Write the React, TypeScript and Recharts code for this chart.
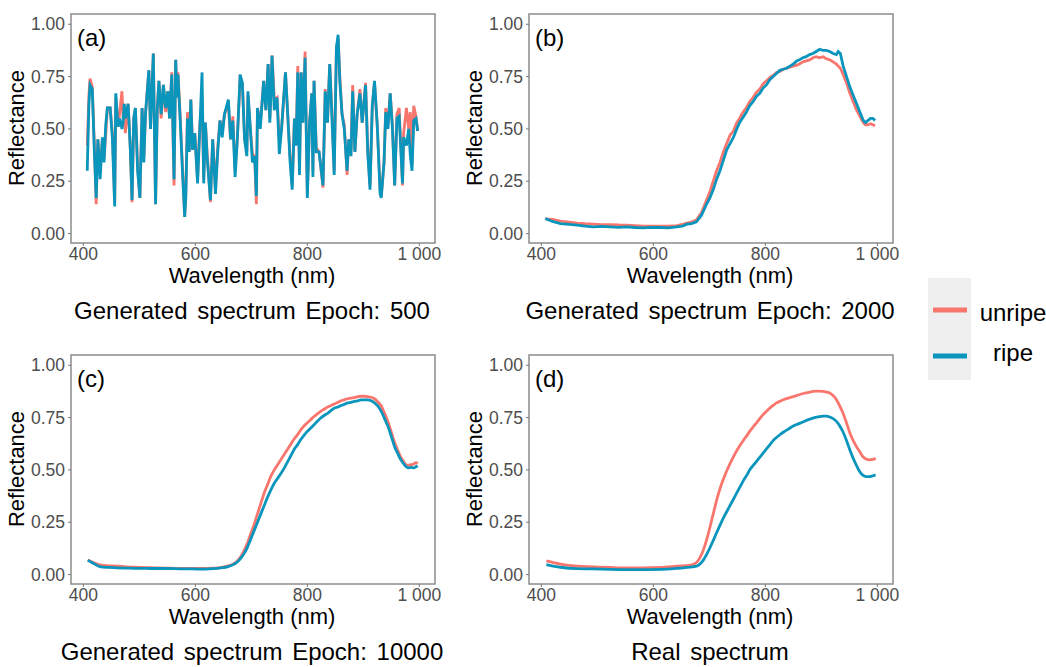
import { LineChart, Line, XAxis, YAxis, ReferenceArea } from 'recharts';

document.body.style.margin = '0';

// axis setup shared by all four panels
const xTicks = [400, 600, 800, 1000];
const xTickLabels = ['400', '600', '800', '1 000'];
const yTicks = [0, 0.25, 0.5, 0.75, 1];
const seriesNames = ['unripe', 'ripe'];
const seriesColors = ['#F8766D', '#0A95BD'];

// (a) Generated spectrum, epoch 500
const waveA = [
  407, 410, 412, 416, 420, 423, 426, 430, 434, 437, 440, 443, 448, 452, 456, 458, 462, 465, 469, 471,
  473, 475, 480, 484, 487, 490, 493, 497, 501, 505, 508, 511, 517, 520, 525, 529, 532, 535, 539, 543,
  547, 551, 554, 558, 562, 565, 567, 569, 573, 577, 581, 583, 586, 589, 592, 595, 599, 604, 608, 612,
  615, 618, 621, 627, 631, 636, 640, 644, 648, 652, 659, 663, 667, 671, 675, 680, 684, 688, 692, 694,
  698, 702, 706, 709, 711, 716, 722, 726, 730, 733, 735, 737, 741, 746, 750, 754, 761, 765, 769, 773,
  777, 780, 783, 786, 789, 792, 796, 800, 804, 808, 810, 812, 816, 821, 828, 832, 836, 840, 844, 848,
  852, 855, 858, 862, 866, 871, 874, 878, 881, 885, 889, 894, 898, 904, 908, 912, 916, 920, 925, 930,
  932, 937, 940, 944, 948, 952, 956, 960, 964, 970, 972, 977, 981, 984, 987, 990, 994, 997,
];
const unripeA = [
  0.42, 0.66, 0.74, 0.7, 0.4, 0.14, 0.45, 0.3, 0.44, 0.36, 0.47, 0.6, 0.6, 0.48, 0.15, 0.65, 0.51, 0.58, 0.68, 0.55,
  0.62, 0.48, 0.62, 0.4, 0.15, 0.55, 0.6, 0.32, 0.17, 0.6, 0.36, 0.57, 0.78, 0.5, 0.86, 0.14, 0.59, 0.73, 0.55, 0.71,
  0.58, 0.68, 0.55, 0.77, 0.23, 0.83, 0.65, 0.77, 0.56, 0.32, 0.08, 0.2, 0.58, 0.39, 0.64, 0.42, 0.48, 0.26, 0.52, 0.64,
  0.26, 0.53, 0.39, 0.15, 0.45, 0.22, 0.41, 0.54, 0.48, 0.57, 0.62, 0.45, 0.56, 0.3, 0.45, 0.74, 0.72, 0.45, 0.39, 0.66,
  0.51, 0.38, 0.37, 0.14, 0.6, 0.52, 0.73, 0.59, 0.81, 0.55, 0.66, 0.85, 0.64, 0.65, 0.45, 0.5, 0.77, 0.57, 0.38, 0.23,
  0.55, 0.45, 0.8, 0.3, 0.77, 0.53, 0.87, 0.19, 0.53, 0.67, 0.3, 0.73, 0.41, 0.39, 0.22, 0.69, 0.53, 0.81, 0.58, 0.3,
  0.89, 0.93, 0.75, 0.57, 0.52, 0.28, 0.45, 0.4, 0.71, 0.39, 0.57, 0.69, 0.53, 0.72, 0.4, 0.23, 0.61, 0.72, 0.51, 0.21,
  0.18, 0.34, 0.6, 0.52, 0.67, 0.52, 0.23, 0.57, 0.6, 0.23, 0.48, 0.6, 0.5, 0.58, 0.33, 0.61, 0.56, 0.49,
];
const ripeA = [
  0.3, 0.62, 0.71, 0.69, 0.37, 0.17, 0.45, 0.26, 0.46, 0.34, 0.52, 0.6, 0.6, 0.45, 0.13, 0.67, 0.51, 0.55, 0.5, 0.53,
  0.62, 0.55, 0.62, 0.4, 0.16, 0.55, 0.6, 0.3, 0.17, 0.6, 0.34, 0.57, 0.78, 0.5, 0.86, 0.14, 0.59, 0.73, 0.57, 0.71,
  0.6, 0.68, 0.55, 0.76, 0.26, 0.83, 0.65, 0.76, 0.54, 0.3, 0.08, 0.17, 0.55, 0.39, 0.64, 0.4, 0.48, 0.24, 0.5, 0.77,
  0.24, 0.53, 0.37, 0.16, 0.45, 0.19, 0.39, 0.54, 0.46, 0.57, 0.64, 0.45, 0.54, 0.27, 0.45, 0.76, 0.72, 0.45, 0.37, 0.68,
  0.51, 0.34, 0.37, 0.18, 0.6, 0.5, 0.73, 0.59, 0.81, 0.53, 0.68, 0.85, 0.59, 0.65, 0.38, 0.5, 0.77, 0.57, 0.35, 0.21,
  0.55, 0.42, 0.77, 0.28, 0.77, 0.53, 0.84, 0.17, 0.53, 0.67, 0.27, 0.73, 0.39, 0.39, 0.23, 0.68, 0.53, 0.81, 0.55, 0.28,
  0.89, 0.95, 0.73, 0.57, 0.5, 0.3, 0.45, 0.37, 0.68, 0.39, 0.57, 0.67, 0.53, 0.71, 0.38, 0.21, 0.61, 0.73, 0.51, 0.19,
  0.17, 0.34, 0.58, 0.5, 0.67, 0.5, 0.23, 0.55, 0.56, 0.24, 0.46, 0.42, 0.5, 0.37, 0.3, 0.54, 0.55, 0.49,
];

// (b) Generated spectrum, epoch 2000
const waveB = [
  407, 420, 434, 450, 464, 478, 493, 508, 523, 538, 553, 567, 582, 597, 612, 627, 642, 652, 660, 668,
  677, 686, 695, 701, 707, 713, 719, 725, 731, 737, 743, 749, 754, 760, 766, 772, 778, 784, 790, 796,
  802, 808, 814, 820, 826, 832, 838, 844, 850, 856, 861, 867, 873, 879, 885, 891, 897, 903, 909, 915,
  921, 927, 930, 934, 939, 945, 951, 957, 963, 969, 975, 979, 983, 988, 992, 996,
];
const unripeB = [
  0.07, 0.068, 0.06, 0.055, 0.05, 0.047, 0.045, 0.043, 0.043, 0.041, 0.04, 0.038, 0.035, 0.036, 0.035, 0.036, 0.038, 0.044, 0.05, 0.055,
  0.065, 0.1, 0.16, 0.2, 0.25, 0.3, 0.34, 0.39, 0.43, 0.47, 0.49, 0.53, 0.55, 0.58, 0.6, 0.63, 0.65, 0.675, 0.69, 0.715,
  0.73, 0.745, 0.755, 0.77, 0.775, 0.785, 0.79, 0.795, 0.8, 0.805, 0.81, 0.82, 0.825, 0.83, 0.84, 0.845, 0.84, 0.845, 0.835, 0.83,
  0.82, 0.81, 0.8, 0.79, 0.76, 0.72, 0.67, 0.63, 0.59, 0.56, 0.53, 0.52, 0.52, 0.525, 0.52, 0.515,
];
const ripeB = [
  0.072, 0.058, 0.048, 0.044, 0.04, 0.036, 0.032, 0.034, 0.032, 0.03, 0.032, 0.029, 0.027, 0.03, 0.029, 0.027, 0.032, 0.036, 0.045, 0.048,
  0.056, 0.088, 0.14, 0.17, 0.21, 0.26, 0.3, 0.35, 0.4, 0.43, 0.46, 0.5, 0.53, 0.555, 0.58, 0.61, 0.63, 0.655, 0.67, 0.695,
  0.71, 0.735, 0.75, 0.765, 0.78, 0.785, 0.79, 0.8, 0.81, 0.825, 0.83, 0.84, 0.845, 0.855, 0.86, 0.87, 0.88, 0.875, 0.875, 0.87,
  0.86, 0.855, 0.87, 0.86, 0.8, 0.75, 0.7, 0.66, 0.62, 0.58, 0.54, 0.53, 0.54, 0.55, 0.55, 0.54,
];

// (c) Generated spectrum, epoch 10000
const waveC = [
  408, 420, 431, 446, 461, 476, 491, 505, 520, 535, 550, 565, 580, 595, 610, 625, 640, 649, 657, 663,
  669, 675, 681, 687, 693, 699, 705, 711, 717, 723, 729, 735, 741, 747, 753, 759, 765, 771, 777, 783,
  788, 794, 800, 806, 812, 818, 824, 830, 836, 842, 848, 854, 860, 866, 872, 878, 884, 890, 896, 902,
  908, 914, 920, 926, 932, 938, 944, 950, 956, 962, 967, 972, 976, 980, 985, 990, 994, 997,
];
const unripeC = [
  0.069, 0.055, 0.045, 0.042, 0.04, 0.037, 0.035, 0.034, 0.033, 0.032, 0.031, 0.03, 0.03, 0.03, 0.029, 0.03, 0.032, 0.036, 0.04, 0.045,
  0.052, 0.065, 0.085, 0.115, 0.15, 0.195, 0.24, 0.29, 0.34, 0.39, 0.43, 0.47, 0.5, 0.525, 0.55, 0.575, 0.6, 0.625, 0.65, 0.67,
  0.69, 0.71, 0.725, 0.74, 0.755, 0.768, 0.78, 0.79, 0.8, 0.807, 0.815, 0.822, 0.83, 0.835, 0.84, 0.843, 0.845, 0.85, 0.852, 0.852,
  0.85, 0.847, 0.84, 0.825, 0.805, 0.77, 0.73, 0.68, 0.63, 0.59, 0.56, 0.54, 0.525, 0.522, 0.525, 0.528, 0.535, 0.53,
];
const ripeC = [
  0.069, 0.05, 0.037, 0.034, 0.032, 0.031, 0.03, 0.03, 0.029, 0.029, 0.029, 0.028, 0.027, 0.027, 0.026, 0.027, 0.03, 0.033, 0.037, 0.042,
  0.05, 0.06, 0.077, 0.1, 0.13, 0.17, 0.21, 0.25, 0.29, 0.33, 0.37, 0.405, 0.436, 0.46, 0.484, 0.51, 0.54, 0.57, 0.6, 0.622,
  0.644, 0.665, 0.684, 0.7, 0.716, 0.733, 0.748, 0.76, 0.77, 0.783, 0.795, 0.8, 0.807, 0.813, 0.82, 0.823, 0.827, 0.83, 0.835, 0.835,
  0.835, 0.83, 0.82, 0.805, 0.78, 0.745, 0.708, 0.66, 0.61, 0.575, 0.548, 0.53, 0.516, 0.51, 0.512, 0.51, 0.515, 0.52,
];

// (d) Real spectrum
const waveD = [
  409, 434, 464, 493, 523, 553, 582, 612, 642, 666, 677, 683, 689, 695, 701, 707, 713, 719, 725, 731,
  737, 743, 749, 755, 761, 767, 772, 778, 784, 790, 796, 802, 808, 814, 820, 826, 832, 841, 850, 859,
  868, 877, 885, 894, 903, 909, 915, 921, 927, 933, 939, 945, 951, 957, 963, 969, 974, 980, 986, 992, 997,
];
const unripeD = [
  0.065, 0.05, 0.04, 0.037, 0.034, 0.032, 0.032, 0.034, 0.04, 0.045, 0.058, 0.08, 0.115, 0.165, 0.225, 0.29, 0.355, 0.41, 0.455, 0.495,
  0.53, 0.562, 0.592, 0.618, 0.642, 0.664, 0.684, 0.705, 0.724, 0.745, 0.764, 0.78, 0.796, 0.808, 0.82, 0.828, 0.835, 0.843, 0.85, 0.858,
  0.865, 0.87, 0.875, 0.876, 0.875, 0.872, 0.867, 0.855, 0.835, 0.805, 0.77, 0.725, 0.676, 0.64, 0.61, 0.585, 0.564, 0.552, 0.548, 0.55, 0.556,
];
const ripeD = [
  0.048, 0.035, 0.028, 0.027, 0.025, 0.024, 0.024, 0.025, 0.03, 0.036, 0.04, 0.05, 0.068, 0.095, 0.128, 0.163, 0.2, 0.235, 0.27, 0.3,
  0.33, 0.36, 0.39, 0.42, 0.45, 0.475, 0.5, 0.52, 0.54, 0.56, 0.58, 0.6, 0.62, 0.64, 0.655, 0.668, 0.68, 0.695, 0.71, 0.72,
  0.73, 0.74, 0.747, 0.753, 0.757, 0.757, 0.753, 0.745, 0.732, 0.71, 0.68, 0.64, 0.595, 0.555, 0.52, 0.49, 0.475, 0.468, 0.468, 0.472, 0.475,
];

const toRows = (wave: number[], unripe: number[], ripe: number[]) =>
  wave.map((nm, i) => ({ nm, unripe: unripe[i], ripe: ripe[i] }));

const X_DOMAIN: [number, number] = [378, 1028];
const Y_DOMAIN: [number, number] = [-0.045, 1.049];

type PanelProps = {
  left: number;
  top: number;
  tag: string;
  subtitle: string;
  rows: Array<{ nm: number; unripe: number; ripe: number }>;
  curve: 'linear' | 'monotone';
};

function SpectrumPanel({ left, top, tag, subtitle, rows, curve }: PanelProps) {
  const centered = (y: number, size: number): React.CSSProperties => ({
    position: 'absolute',
    left: 251,
    top: y - size * 0.6,
    transform: 'translateX(-50%)',
    fontSize: size,
    lineHeight: `${size * 1.2}px`,
    whiteSpace: 'nowrap',
    color: '#000',
  });

  return (
    <div style={{ position: 'absolute', left, top, width: 440, height: 330 }}>
      <LineChart
        width={440}
        height={330}
        data={rows}
        margin={{ top: 14, right: 6, bottom: 0, left: 0 }}
      >
        <XAxis
          type="number"
          dataKey="nm"
          domain={X_DOMAIN}
          ticks={xTicks}
          tickFormatter={(v: number) => xTickLabels[xTicks.indexOf(v)]}
          allowDataOverflow
          height={87}
          axisLine={false}
          tickSize={3}
          tickMargin={2}
          tickLine={{ stroke: '#777' }}
          tick={{ fill: '#4d4d4d', fontSize: 17.5 }}
        />
        <YAxis
          type="number"
          domain={Y_DOMAIN}
          ticks={yTicks}
          tickFormatter={(v: number) => v.toFixed(2)}
          allowDataOverflow
          width={70}
          axisLine={false}
          tickSize={3}
          tickMargin={3}
          tickLine={{ stroke: '#777' }}
          tick={{ fill: '#4d4d4d', fontSize: 17.5 }}
        />
        <ReferenceArea
          x1={X_DOMAIN[0]}
          x2={X_DOMAIN[1]}
          y1={Y_DOMAIN[0]}
          y2={Y_DOMAIN[1]}
          fill="none"
          stroke="#8c8c8c"
          strokeWidth={1.5}
          ifOverflow="visible"
        />
        <Line
          type={curve}
          dataKey="unripe"
          stroke={seriesColors[0]}
          strokeWidth={2.8}
          dot={false}
          isAnimationActive={false}
        />
        <Line
          type={curve}
          dataKey="ripe"
          stroke={seriesColors[1]}
          strokeWidth={2.8}
          dot={false}
          isAnimationActive={false}
        />
      </LineChart>
      <div style={{ position: 'absolute', left: 76, top: 26, fontSize: 24, lineHeight: '24px' }}>
        {tag}
      </div>
      <div
        style={{
          position: 'absolute',
          left: 16,
          top: 128,
          transform: 'translate(-50%, -50%) rotate(-90deg)',
          fontSize: 22,
          lineHeight: '22px',
          whiteSpace: 'nowrap',
        }}
      >
        Reflectance
      </div>
      <div style={centered(276, 22)}>Wavelength (nm)</div>
      <div style={{ ...centered(311, 24), wordSpacing: 3 }}>{subtitle}</div>
    </div>
  );
}

function SharedLegend() {
  return (
    <div style={{ position: 'absolute', left: 928, top: 278, width: 140, height: 102 }}>
      <div
        style={{ position: 'absolute', left: 0, top: 0, width: 43, height: 102, background: '#efefef' }}
      />
      {seriesNames.map((name, i) => (
        <div key={name}>
          <svg
            style={{ position: 'absolute', left: 5, top: 29 + i * 46 }}
            width={34}
            height={6}
          >
            <line x1={0} y1={3} x2={34} y2={3} stroke={seriesColors[i]} strokeWidth={5} />
          </svg>
          <div
            style={{
              position: 'absolute',
              left: 85,
              top: 20 + i * 40,
              transform: 'translateX(-50%)',
              fontSize: 24,
              lineHeight: '30px',
            }}
          >
            {name}
          </div>
        </div>
      ))}
    </div>
  );
}

export default function App() {
  return (
    <div
      style={{
        position: 'relative',
        width: 1046,
        height: 667,
        background: '#fff',
        fontFamily: '"Liberation Sans", Arial, sans-serif',
        overflow: 'hidden',
      }}
    >
      <SpectrumPanel
        left={1}
        top={0}
        tag="(a)"
        subtitle="Generated spectrum Epoch: 500"
        rows={toRows(waveA, unripeA, ripeA)}
        curve="linear"
      />
      <SpectrumPanel
        left={459}
        top={0}
        tag="(b)"
        subtitle="Generated spectrum Epoch: 2000"
        rows={toRows(waveB, unripeB, ripeB)}
        curve="linear"
      />
      <SpectrumPanel
        left={1}
        top={341}
        tag="(c)"
        subtitle="Generated spectrum Epoch: 10000"
        rows={toRows(waveC, unripeC, ripeC)}
        curve="monotone"
      />
      <SpectrumPanel
        left={459}
        top={341}
        tag="(d)"
        subtitle="Real spectrum"
        rows={toRows(waveD, unripeD, ripeD)}
        curve="monotone"
      />
      <SharedLegend />
    </div>
  );
}
